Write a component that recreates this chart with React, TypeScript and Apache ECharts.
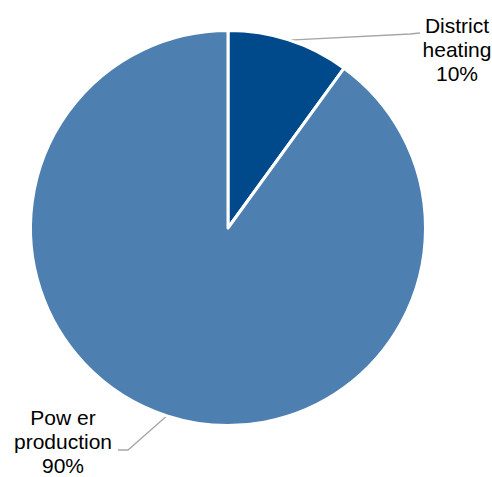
import React, { useEffect, useRef } from "react";
import * as echarts from "echarts";

const categories = ["District heating", "Pow er production"];
const labelTexts = ["District\nheating", "Pow er\nproduction"];
const values = [10, 90];
const colors = ["#004A8B", "#4D80B1"];

export default function App() {
  const ref = useRef<HTMLDivElement>(null);
  useEffect(() => {
    document.body.style.margin = "0";
    const chart = echarts.init(ref.current!, null, { renderer: "svg" });
    chart.setOption({
      animation: false,
      backgroundColor: "#ffffff",
      series: [
        {
          type: "pie",
          center: [228, 228],
          radius: 197.5,
          startAngle: 90,
          clockwise: true,
          data: categories.map((name, i) => ({
            name,
            value: values[i],
            itemStyle: { color: colors[i] },
          })),
          itemStyle: { borderColor: "#ffffff", borderWidth: 3 },
          label: {
            show: true,
            formatter: (p: any) => `${labelTexts[p.dataIndex]}\n${p.percent}%`,
            fontFamily: "Liberation Sans, Arial, sans-serif",
            fontSize: 21,
            lineHeight: 24,
            color: "#000000",
            align: "center",
          },
          labelLine: {
            show: true,
            lineStyle: { color: "#A6A6A6", width: 1.3 },
            length: 20,
            length2: 10,
          },
          labelLayout: (params: any) => {
            const start = params.labelLinePoints ? params.labelLinePoints[0] : null;
            if (params.dataIndex === 0) {
              return {
                x: 457,
                y: 49,
                align: "center",
                verticalAlign: "middle",
                labelLinePoints: start
                  ? [start, [410, 34], [420, 33]]
                  : undefined,
              };
            }
            return {
              x: 63,
              y: 441,
              align: "center",
              verticalAlign: "middle",
              labelLinePoints: start ? [start, [128, 450], [118, 450]] : undefined,
            };
          },
        },
      ],
    });
    return () => chart.dispose();
  }, []);
  return <div ref={ref} style={{ width: 492, height: 477 }} />;
}
